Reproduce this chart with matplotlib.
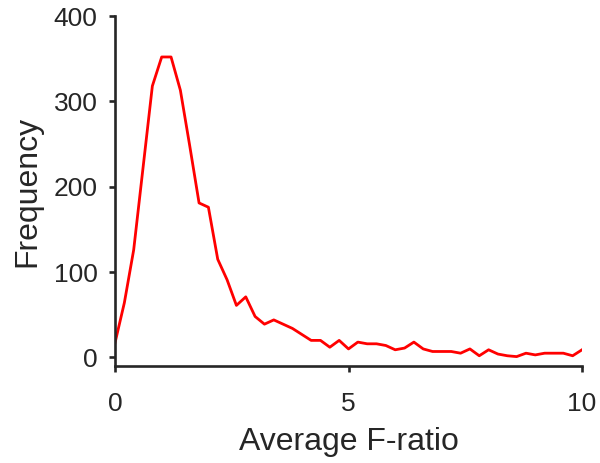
import matplotlib
matplotlib.use('Agg')
import matplotlib.pyplot as plt
import numpy as np

# histogram of average F-ratio, bins of 0.2
f_ratio = np.round(np.arange(0, 10.01, 0.2), 1)
freq = [17, 64, 126, 222, 318, 352, 352, 313, 248, 181,
        176, 115, 91, 61, 71, 48, 39, 44, 39, 34,
        27, 20, 20, 12, 20, 10, 18, 16, 16, 14,
        9, 11, 18, 10, 7, 7, 7, 5, 10, 2,
        9, 4, 2, 1, 5, 3, 5, 5, 5, 2,
        9]

plt.rcParams['font.family'] = ['Liberation Sans', 'DejaVu Sans']

fig = plt.figure(figsize=(6, 4.63), dpi=100)
ax = fig.add_axes([115/600, 1 - 366/463, 467/600, 350/463])

ax.plot(f_ratio, freq, color='#ff0000', lw=2.0)

ax.set_xlim(0, 10)
ax.set_ylim(-10, 400)
ax.set_xticks([0, 5, 10])
ax.set_yticks([0, 100, 200, 300, 400])

axcol = '#262626'
for s in ['top', 'right']:
    ax.spines[s].set_visible(False)
for s in ['left', 'bottom']:
    ax.spines[s].set_linewidth(1.9)
    ax.spines[s].set_color(axcol)

ax.tick_params(axis='both', direction='out', length=4.5, width=1.9,
               color=axcol, labelcolor=axcol, labelsize=19)
ax.tick_params(axis='y', pad=8)
ax.tick_params(axis='x', pad=14)

ax.set_xlabel('Average F-ratio', fontsize=23, color=axcol, labelpad=8)
ax.set_ylabel('Frequency', fontsize=23, color=axcol, labelpad=8)

fig.savefig('out.png', dpi=100)
